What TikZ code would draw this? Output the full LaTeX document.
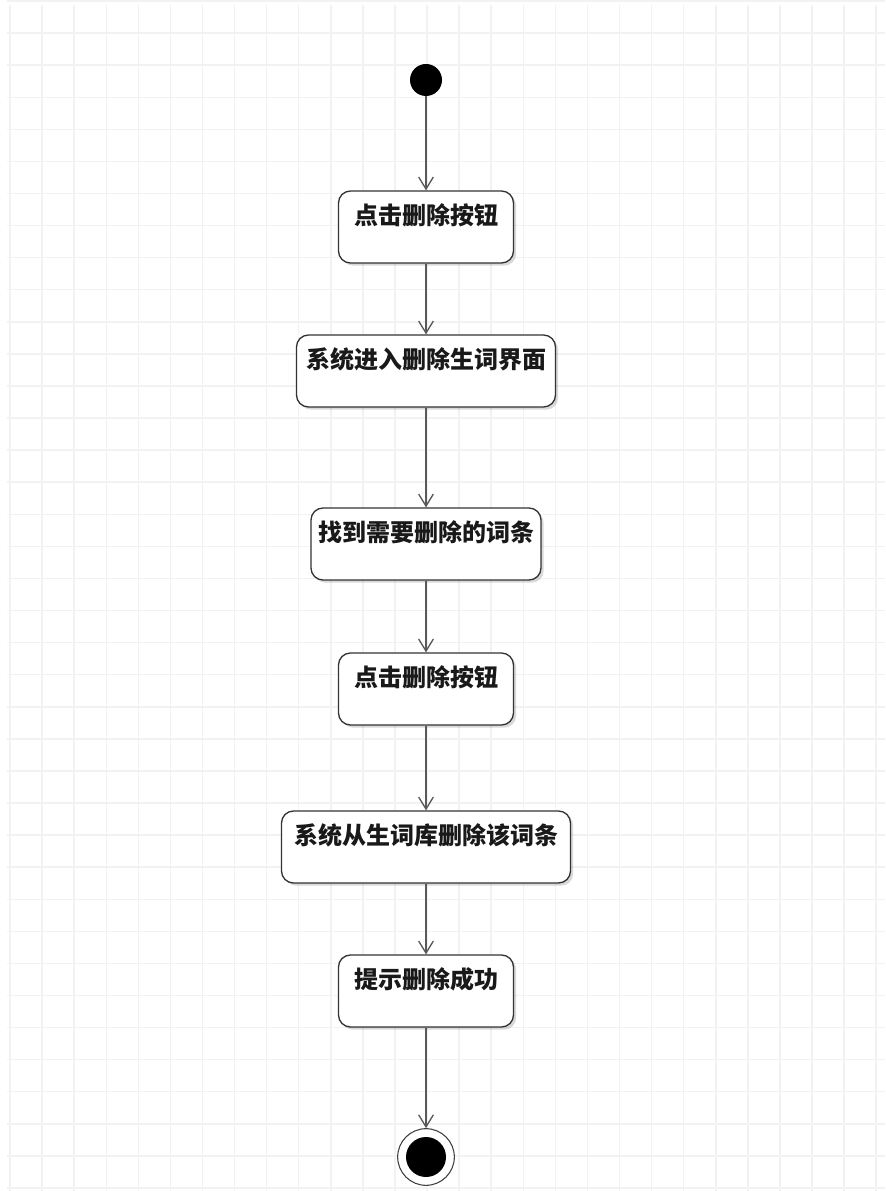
\documentclass[tikz,border=0pt]{standalone}
\usepackage{fontspec}
\newfontfamily\cjk{Noto Sans CJK SC}
\usetikzlibrary{arrows.meta,shadows}

\begin{document}
\begin{tikzpicture}[x=0.75pt,y=-0.75pt,
    gridline/.style={black!5,line width=1.1pt},
    actbox/.style={draw=black!80,line width=1pt,fill=white,rounded corners=9pt,
        inner sep=0pt,text height=24.8pt,text depth=29.2pt,text=black!90,
        font=\cjk\bfseries\fontsize{18}{20}\selectfont,
        drop shadow={shadow xshift=2pt,shadow yshift=-2pt,opacity=0.15,fill=black}},
    flow/.style={draw=black!65,line width=1pt,-{Straight Barb[length=9pt,width=11pt]}}]
    \useasboundingbox (0,0) rectangle (885,1191);
    \fill[white] (0,0) rectangle (885,1191);
    % background grid
    \foreach \k in {0,...,27}
        \draw[gridline] (10+32.08*\k,5) -- (10+32.08*\k,1191);
    \foreach \k in {0,...,37}
        \draw[gridline] (7,1+32.08*\k) -- (885,1+32.08*\k);

    \node[circle,fill=black,inner sep=0pt,minimum size=24pt] (start) at (426,80) {};
    \node[actbox,minimum width=131.25pt] (b1) at (426,227) {点击删除按钮};
    \node[actbox,minimum width=194.25pt] (b2) at (426,371) {系统进入删除生词界面};
    \node[actbox,minimum width=172.5pt] (b3) at (426,544) {找到需要删除的词条};
    \node[actbox,minimum width=131.25pt] (b4) at (426,689) {点击删除按钮};
    \node[actbox,minimum width=216.75pt] (b5) at (426,847) {系统从生词库删除该词条};
    \node[actbox,minimum width=131.25pt] (b6) at (426,991) {提示删除成功};
    \node[circle,draw=black!75,line width=0.8pt,fill=white,inner sep=0pt,minimum size=42.5pt] (stop) at (426,1157) {};
    \node[circle,fill=black,inner sep=0pt,minimum size=30pt] (stopdot) at (stop) {};

    \draw[flow] (start) -- (b1);
    \draw[flow] (b1) -- (b2);
    \draw[flow] (b2) -- (b3);
    \draw[flow] (b3) -- (b4);
    \draw[flow] (b4) -- (b5);
    \draw[flow] (b5) -- (b6);
    \draw[flow] (b6) -- (stop);
\end{tikzpicture}
\end{document}
